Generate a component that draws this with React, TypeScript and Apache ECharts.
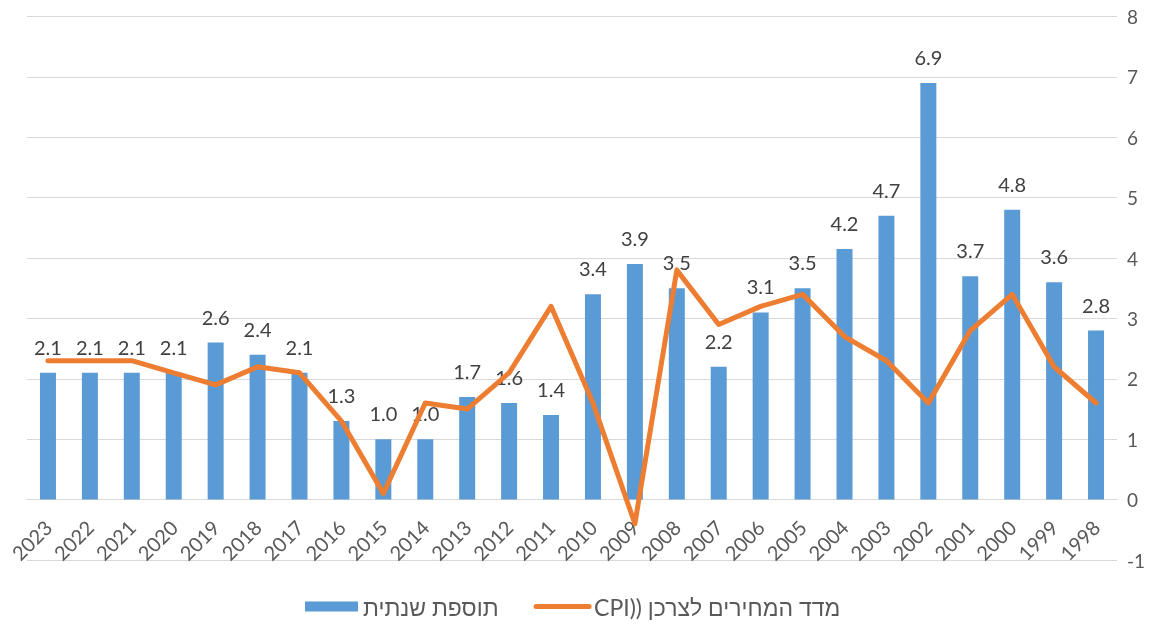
import React, { useEffect, useRef } from "react";
import * as echarts from "echarts";

const years = ["2023","2022","2021","2020","2019","2018","2017","2016","2015","2014","2013","2012","2011","2010","2009","2008","2007","2006","2005","2004","2003","2002","2001","2000","1999","1998"];
const annualRaise = [2.1,2.1,2.1,2.1,2.6,2.4,2.1,1.3,1.0,1.0,1.7,1.6,1.4,3.4,3.9,3.5,2.2,3.1,3.5,4.15,4.7,6.9,3.7,4.8,3.6,2.8];
const cpi = [2.3,2.3,2.3,2.1,1.9,2.2,2.1,1.3,0.1,1.6,1.5,2.1,3.2,1.6,-0.4,3.8,2.9,3.2,3.4,2.7,2.3,1.6,2.8,3.4,2.2,1.6];
const yTicks = { min: -1, max: 8, interval: 1 };
const barName = "תוספת שנתית";
const lineName = "מדד המחירים לצרכן ((CPI";

const FONT = "Lato, 'Liberation Sans', 'DejaVu Sans', sans-serif";
const GRID_TOP = 16.5;
const GRID_BOTTOM = 68;
const H = 628;

function fixRtl(root: HTMLElement | null) {
  if (!root) return;
  root.querySelectorAll("text").forEach((t) => {
    if (t.getAttribute("data-rtl") === "1") return;
    const s = t.textContent || "";
    if (s.indexOf("CPI") >= 0 && /[\u0590-\u05FF]/.test(s)) {
      const anchor = t.getAttribute("text-anchor") || "start";
      t.setAttribute("direction", "rtl");
      (t as any).style.direction = "rtl";
      (t as any).style.unicodeBidi = "embed";
      if (anchor === "start") t.setAttribute("text-anchor", "end");
      else if (anchor === "end") t.setAttribute("text-anchor", "start");
      t.setAttribute("data-rtl", "1");
    }
  });
}

export default function App() {
  const ref = useRef<HTMLDivElement>(null);
  useEffect(() => {
    if (!ref.current) return;
    const chart = echarts.init(ref.current, undefined, { renderer: "svg" });
    const unitPx = (H - GRID_TOP - GRID_BOTTOM) / (yTicks.max - yTicks.min);
    chart.on("finished", () => fixRtl(ref.current));
    chart.setOption({
      animation: false,
      textStyle: { fontFamily: FONT },
      grid: { left: 27, right: 48, top: GRID_TOP, bottom: GRID_BOTTOM, containLabel: false },
      legend: {
        left: 305,
        top: 595,
        padding: 0,
        itemWidth: 53,
        itemHeight: 10,
        itemGap: 35,
        textStyle: { fontSize: 23, color: "#595959", fontFamily: FONT },
        data: [
          { name: barName, icon: "rect" },
          { name: lineName, itemStyle: { opacity: 0 }, lineStyle: { width: 5, cap: "round" } },
        ],
      },
      xAxis: {
        type: "category",
        data: years,
        offset: -unitPx * (0 - yTicks.min),
        axisLine: { onZero: false, lineStyle: { color: "#D9D9D9", width: 1 } },
        axisTick: { show: false },
        axisLabel: { rotate: 45, fontSize: 20, color: "#595959", margin: 24, interval: 0, fontFamily: FONT },
      },
      yAxis: {
        type: "value",
        position: "right",
        min: yTicks.min,
        max: yTicks.max,
        interval: yTicks.interval,
        axisLine: { show: false },
        axisTick: { show: false },
        splitLine: { lineStyle: { color: "#D9D9D9", width: 1 } },
        axisLabel: { fontSize: 19, color: "#595959", margin: 10, fontFamily: FONT },
      },
      series: [
        {
          name: barName,
          type: "bar",
          data: annualRaise,
          barWidth: 16,
          z: 2,
          itemStyle: { color: "#5B9BD5" },
          label: {
            show: true,
            position: "top",
            distance: 16,
            fontSize: 20,
            color: "#404040",
            fontFamily: FONT,
            formatter: (p: any) => Number(p.value).toFixed(1),
          },
        },
        {
          name: lineName,
          type: "line",
          data: cpi,
          z: 5,
          showSymbol: false,
          symbol: "none",
          lineStyle: { color: "#ED7D31", width: 5, cap: "round", join: "round" },
          itemStyle: { color: "#ED7D31" },
        },
      ],
    });
    fixRtl(ref.current);
    const t1 = setTimeout(() => fixRtl(ref.current), 50);
    const t2 = setTimeout(() => fixRtl(ref.current), 300);
    return () => {
      clearTimeout(t1);
      clearTimeout(t2);
      chart.dispose();
    };
  }, []);
  return <div ref={ref} style={{ position: "fixed", left: 0, top: 0, width: 1165, height: 628 }} />;
}
